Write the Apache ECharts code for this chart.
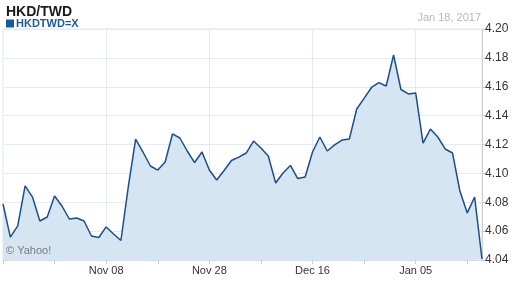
<!DOCTYPE html>
<html>
<head>
<meta charset="utf-8">
<script src="https://cdn.jsdelivr.net/npm/echarts@6/dist/echarts.min.js"></script>
<style>
html,body{margin:0;padding:0;background:#fff;}
#chart{width:512px;height:288px;}
</style>
</head>
<body>
<div id="chart"></div>
<script>
var dates = [
  'Oct 19','Oct 20','Oct 21','Oct 24','Oct 25','Oct 26','Oct 27','Oct 28','Oct 31',
  'Nov 01','Nov 02','Nov 03','Nov 04','Nov 07','Nov 08','Nov 09','Nov 10','Nov 11',
  'Nov 14','Nov 15','Nov 16','Nov 17','Nov 18','Nov 21','Nov 22','Nov 23','Nov 24','Nov 25',
  'Nov 28','Nov 29','Nov 30','Dec 01','Dec 02','Dec 05','Dec 06','Dec 07','Dec 08','Dec 09',
  'Dec 12','Dec 13','Dec 14','Dec 15','Dec 16','Dec 19','Dec 20','Dec 21','Dec 22','Dec 23',
  'Dec 26','Dec 27','Dec 28','Dec 29','Dec 30','Jan 02','Jan 03','Jan 04','Jan 05','Jan 06',
  'Jan 09','Jan 10','Jan 11','Jan 12','Jan 13','Jan 16','Jan 17','Jan 18'
];
var rates = [
  4.0788, 4.0559, 4.0636, 4.0913, 4.0836, 4.0670, 4.0698, 4.0843, 4.0774, 4.0684,
  4.0691, 4.0670, 4.0566, 4.0556, 4.0629, 4.0580, 4.0535, 4.0906, 4.1238, 4.1148,
  4.1051, 4.1023, 4.1079, 4.1273, 4.1245, 4.1155, 4.1075, 4.1148, 4.1023, 4.0954,
  4.1020, 4.1089, 4.1113, 4.1141, 4.1224, 4.1176, 4.1120, 4.0933, 4.1003, 4.1055,
  4.0964, 4.0975, 4.1148, 4.1252, 4.1155, 4.1197, 4.1231, 4.1238, 4.1446, 4.1519,
  4.1595, 4.1629, 4.1605, 4.1820, 4.1581, 4.1550, 4.1557, 4.1210, 4.1307, 4.1252,
  4.1169, 4.1141, 4.0878, 4.0726, 4.0836, 4.0407
];
var yTicks = [4.04, 4.06, 4.08, 4.10, 4.12, 4.14, 4.16, 4.18, 4.20];
var shownLabels = ['Nov 08', 'Nov 28', 'Dec 16', 'Jan 05'];
var titleText = 'HKD/TWD';
var seriesName = 'HKDTWD=X';
var dateText = 'Jan 18, 2017';
var creditText = '\u00a9 Yahoo!';

var chart = echarts.init(document.getElementById('chart'), null, {renderer: 'canvas'});
var font = 'Arial, "Liberation Sans", sans-serif';
chart.setOption({
  animation: false,
  backgroundColor: '#ffffff',
  title: {
    text: titleText, left: 1, top: 0,
    textStyle: {fontFamily: font, fontSize: 14, fontWeight: 'bold', color: '#1a1a1a'}
  },
  legend: {
    left: 1, top: 13, itemWidth: 8, itemHeight: 8, itemGap: 4,
    icon: 'rect',
    data: [seriesName],
    textStyle: {fontFamily: font, fontSize: 11, fontWeight: 'bold', color: '#1d5a96', padding: [0, 0, 0, -3]}
  },
  grid: {left: 3, right: 30, top: 29, bottom: 28, show: true, borderColor: '#e3e6ea', borderWidth: 1},
  xAxis: {
    type: 'category', data: dates, boundaryGap: false,
    axisLine: {show: true, lineStyle: {color: '#d6dde5'}},
    axisTick: {show: true, length: 4, interval: function (i) { return i % 7 === 0; }, lineStyle: {color: '#c8ced6'}},
    axisLabel: {
      interval: function (i, v) { return shownLabels.indexOf(v) >= 0; },
      fontFamily: font, fontSize: 11, color: '#333', margin: 5
    },
    splitLine: {show: true, interval: function (i, v) { return shownLabels.indexOf(v) >= 0; }, lineStyle: {color: '#e6eaf0'}}
  },
  yAxis: {
    type: 'value', position: 'right', min: 4.04, max: 4.20, interval: 0.02,
    axisLine: {show: true, lineStyle: {color: '#cccccc'}},
    axisTick: {show: true, length: 3, lineStyle: {color: '#cccccc'}},
    axisLabel: {fontFamily: font, fontSize: 12, color: '#333', margin: 3,
      formatter: function (v) { return v.toFixed(2); }},
    splitLine: {show: true, lineStyle: {color: '#e6eaf0'}}
  },
  graphic: [
    {type: 'text', right: 31, top: 12, z: 100, style: {text: dateText, fontFamily: font, fontSize: 11, fill: '#b8b8b8'}},
    {type: 'text', left: 6, top: 245, z: 100, style: {text: creditText, fontFamily: font, fontSize: 11, fill: '#7a7a7a'}}
  ],
  series: [{
    name: seriesName, type: 'line', data: rates, showSymbol: false, symbol: 'none',
    lineStyle: {color: '#1b4f8c', width: 1.5},
    itemStyle: {color: '#1b5a98'},
    areaStyle: {color: '#d5e5f1', opacity: 1}
  }]
});
</script>
</body>
</html>
